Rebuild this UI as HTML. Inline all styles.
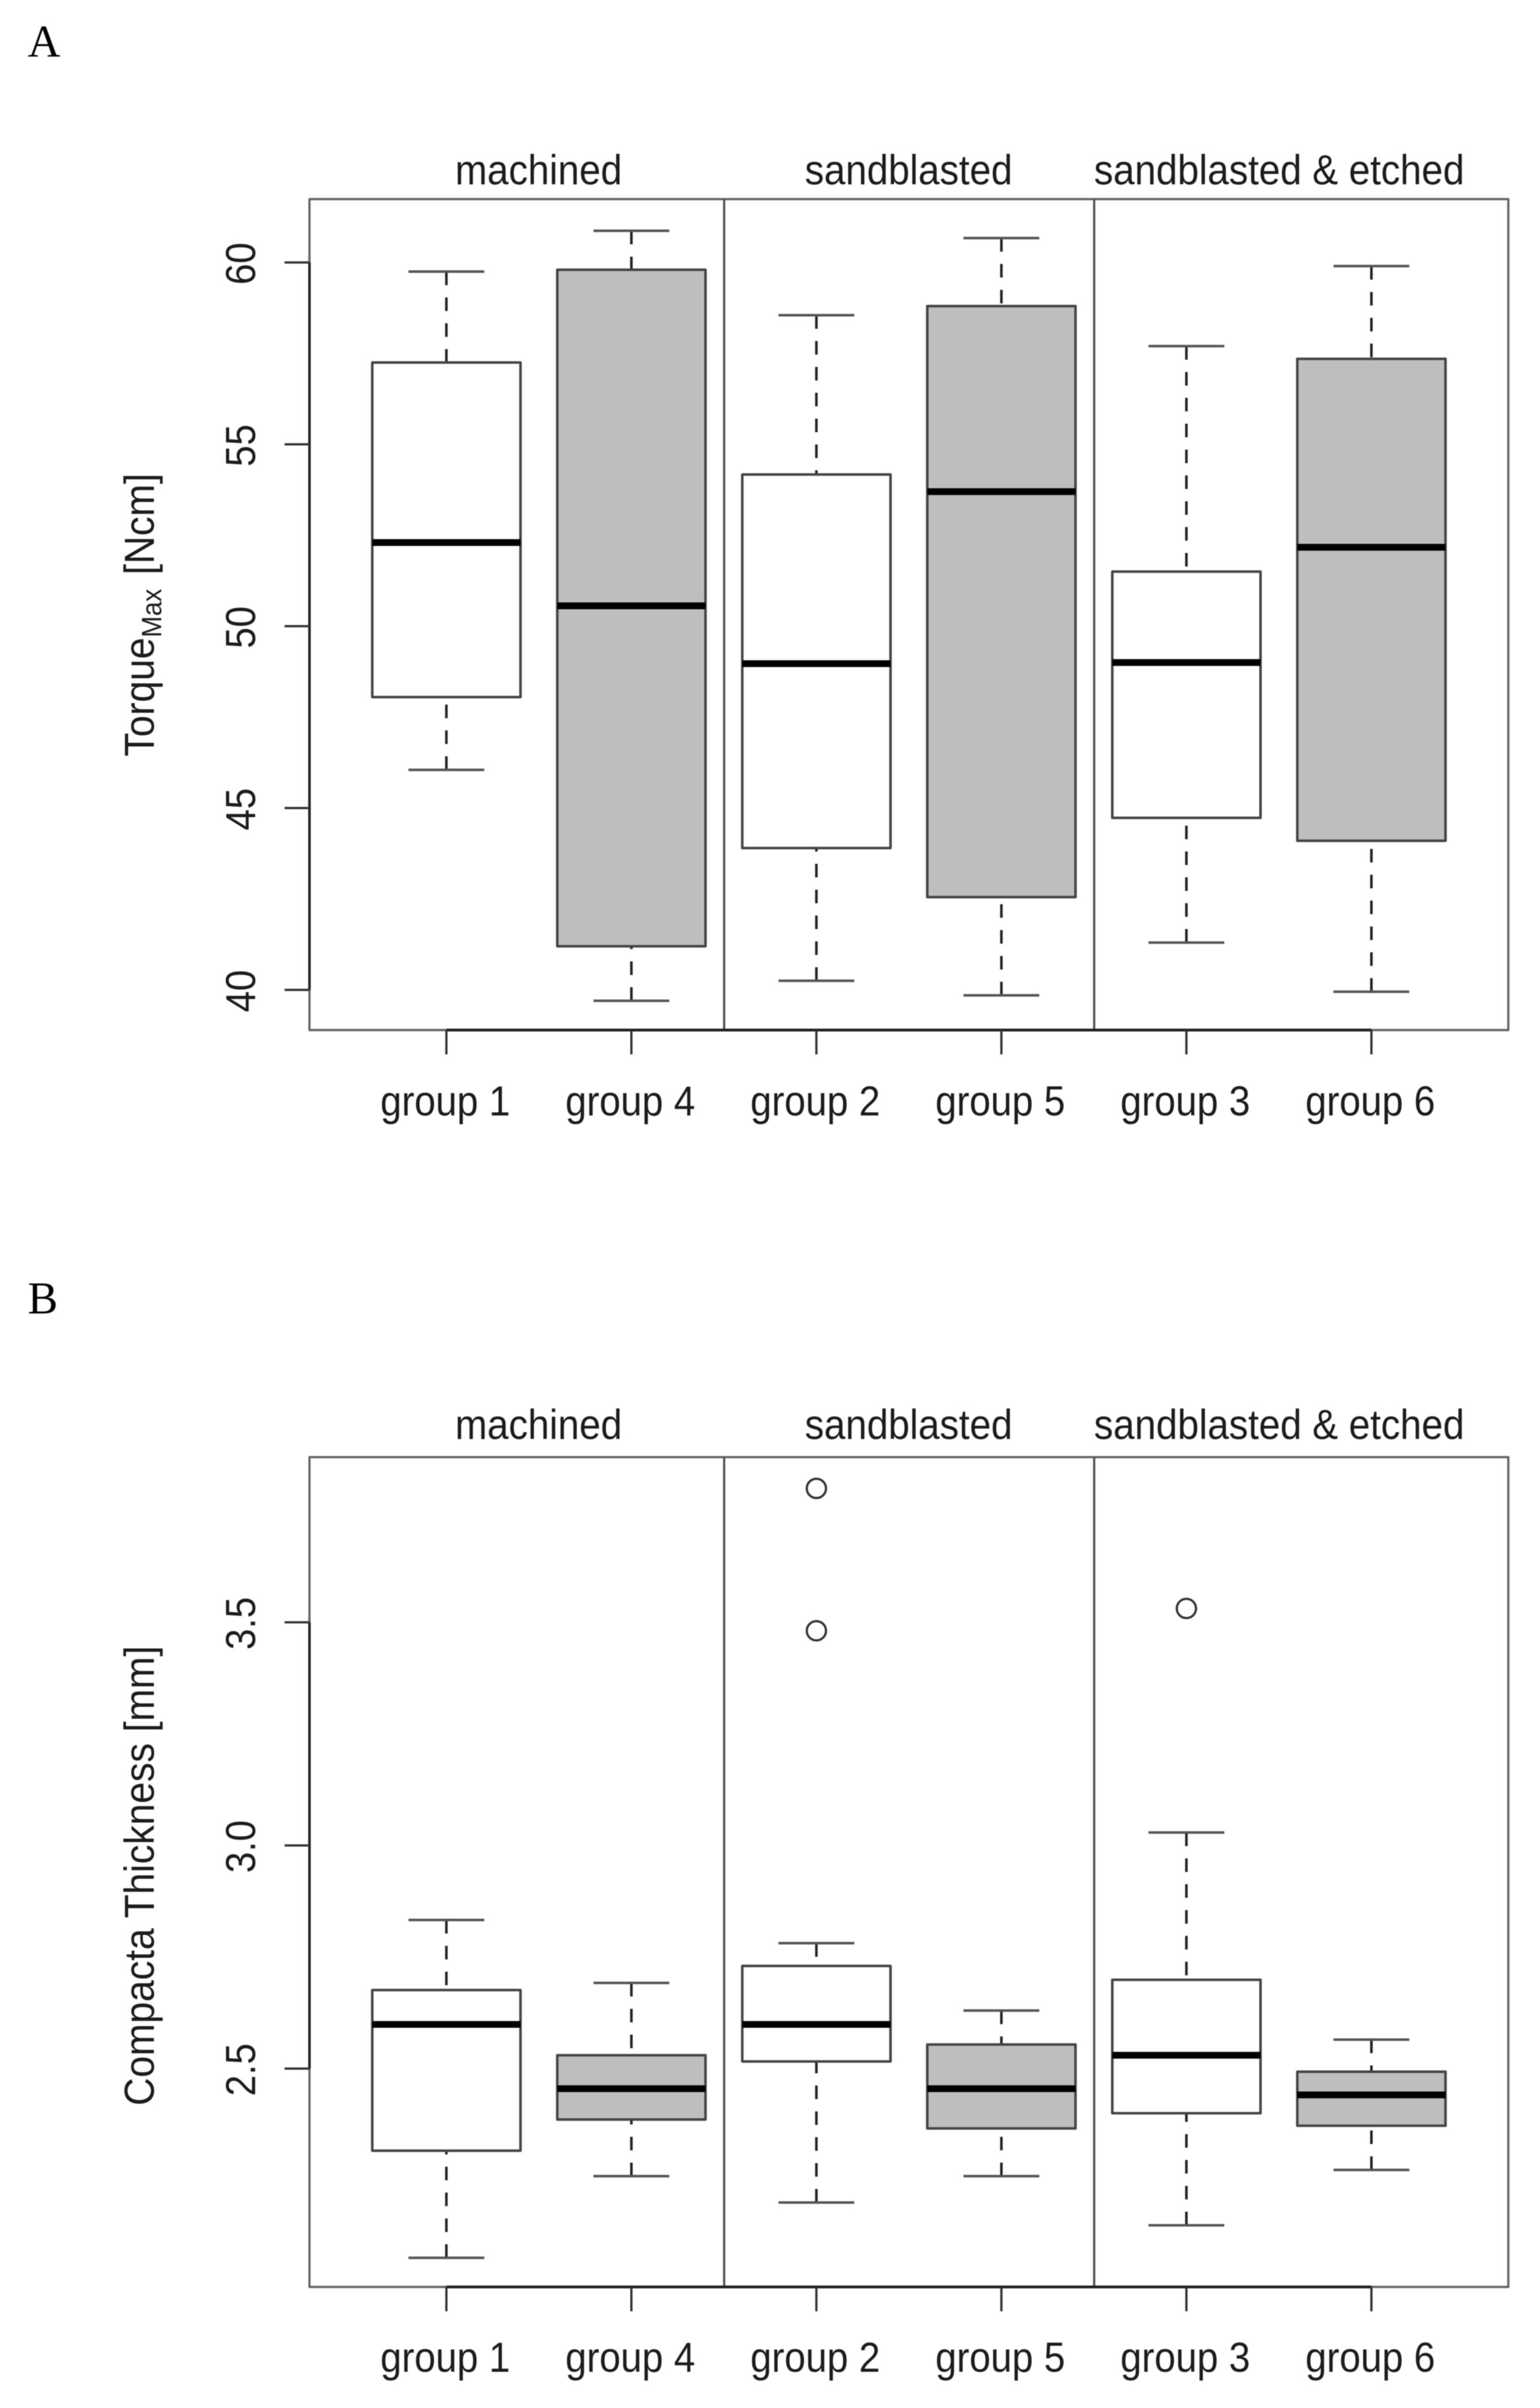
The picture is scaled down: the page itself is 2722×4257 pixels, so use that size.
<!DOCTYPE html>
<html lang="en">
<head>
<meta charset="utf-8">
<title>Torque and compacta thickness box plots</title>
<style>
html,body{margin:0;padding:0;background:#fff;width:2722px;height:4257px;overflow:hidden}
svg{display:block;filter:blur(0.7px)}
text{font-family:"Liberation Sans",sans-serif;fill:#1c1c1c}
.letter{font-family:"Liberation Serif",serif;font-size:80px;fill:#000}
.lab{font-size:74px}
</style>
</head>
<body>
<svg id="chart" xmlns="http://www.w3.org/2000/svg" width="2722" height="4257" viewBox="0 0 2722 4257">
  <rect width="2722" height="4257" fill="#fff"/>
  <text class="letter" x="49" y="100">A</text>
  <text class="letter" x="49" y="2322">B</text>

  <g id="panel-a">
    <text class="lab" text-anchor="middle" transform="translate(952 326) scale(.92 1)">machined</text>
    <text class="lab" text-anchor="middle" transform="translate(1606 326) scale(.92 1)">sandblasted</text>
    <text class="lab" text-anchor="middle" transform="translate(2261 326) scale(.92 1)">sandblasted &amp; etched</text>
    <text class="lab" text-anchor="middle" transform="translate(272 1087) rotate(-90) scale(.93 1)">Torque<tspan font-size="49" dy="13">Max</tspan><tspan dy="-13" dx="6"> [Ncm]</tspan></text>
  </g>

  <g id="panel-b">
    <text class="lab" text-anchor="middle" transform="translate(952 2544) scale(.92 1)">machined</text>
    <text class="lab" text-anchor="middle" transform="translate(1606 2544) scale(.92 1)">sandblasted</text>
    <text class="lab" text-anchor="middle" transform="translate(2261 2544) scale(.92 1)">sandblasted &amp; etched</text>
    <text class="lab" text-anchor="middle" transform="translate(272 3316) rotate(-90) scale(.93 1)">Compacta Thickness [mm]</text>
  </g>
</svg>

<script>
// Shared categories
const groups = ['group 1', 'group 4', 'group 2', 'group 5', 'group 3', 'group 6'];
const boxFills = ['#ffffff', '#bebebe', '#ffffff', '#bebebe', '#ffffff', '#bebebe'];

// Panel A: Torque Max [Ncm]
const torqueTicks = [40, 45, 50, 55, 60];
const torqueLow = [46.05, 39.7, 40.25, 39.85, 41.3, 39.95];
const torqueQ1 = [48.05, 41.2, 43.9, 42.55, 44.73, 44.1];
const torqueMedian = [52.3, 50.56, 48.97, 53.7, 49.0, 52.17];
const torqueQ3 = [57.25, 59.8, 54.17, 58.8, 51.5, 57.35];
const torqueHigh = [59.75, 60.87, 58.55, 60.67, 57.7, 59.9];
const torqueOutlierGroup = [];
const torqueOutlierValue = [];

// Panel B: Compacta Thickness [mm]
const thicknessTicks = ['2.5', '3.0', '3.5'];
const thicknessLow = [2.076, 2.259, 2.2, 2.259, 2.149, 2.273];
const thicknessQ1 = [2.316, 2.386, 2.516, 2.366, 2.4, 2.372];
const thicknessMedian = [2.599, 2.455, 2.599, 2.455, 2.53, 2.441];
const thicknessQ3 = [2.676, 2.53, 2.73, 2.554, 2.699, 2.493];
const thicknessHigh = [2.833, 2.692, 2.781, 2.63, 3.029, 2.565];
const thicknessOutlierGroup = [2, 2, 4];
const thicknessOutlierValue = [3.80, 3.481, 3.531];

const SVG_NS = 'http://www.w3.org/2000/svg';
const plotLeft = 547;
const plotRight = 2666;
const separators = [1280, 1934];
const firstCenter = 789;
const centerStep = 327;
const boxHalf = 131;
const capHalf = 67;
const tickLen = 43;

function xScale(i) {
  return firstCenter + i * centerStep;
}

function makeYScale(v0, y0, v1, y1) {
  return function (v) {
    return y0 + (v - v0) * (y1 - y0) / (v1 - v0);
  };
}

function shape(parent, tag, attrs) {
  const node = document.createElementNS(SVG_NS, tag);
  for (const key in attrs) {
    node.setAttribute(key, attrs[key]);
  }
  parent.appendChild(node);
  return node;
}

function segment(parent, x1, y1, x2, y2, color, width) {
  return shape(parent, 'line', { x1: x1, y1: y1, x2: x2, y2: y2, stroke: color, 'stroke-width': width });
}

function drawPanel(parent, prefix, top, bottom, yScale, ticks, low, q1, median, q3, high, outGroup, outValue, labelBaseline) {
  const frame = shape(parent, 'rect', { x: plotLeft, y: top, width: plotRight - plotLeft, height: bottom - top, fill: 'none', stroke: '#666', 'stroke-width': 4, 'stroke-linejoin': 'round' });
  
  

  separators.forEach(function (sx, s) {
    const sep = segment(parent, sx, top, sx, bottom, '#555', 4);
    
    
  });

  const tickValues = ticks.map(Number);
  const yAxis = segment(parent, plotLeft, yScale(Math.min.apply(null, tickValues)), plotLeft, yScale(Math.max.apply(null, tickValues)), '#222', 4.5);
  
  

  ticks.forEach(function (t) {
    const ty = yScale(Number(t));
    const tick = segment(parent, plotLeft - 44, ty, plotLeft, ty, '#333', 4);
    
    
    const label = shape(parent, 'text', { 'class': 'lab', 'text-anchor': 'middle', transform: 'translate(451 ' + (ty + 2) + ') rotate(-90) scale(.91 1)' });
    label.textContent = t;
    
    
  });

  const xAxis = segment(parent, xScale(0), bottom, xScale(groups.length - 1), bottom, '#222', 5);
  
  

  groups.forEach(function (name, i) {
    const cx = xScale(i);
    const slug = prefix + '-' + name.replace(' ', '-');

    const tick = segment(parent, cx, bottom, cx, bottom + tickLen, '#333', 4);
    
    

    const label = shape(parent, 'text', { 'class': 'lab', 'text-anchor': 'middle', transform: 'translate(' + (cx - 2) + ' ' + labelBaseline + ') scale(.915 1)' });
    label.textContent = name;
    
    

    const upper = shape(parent, 'line', { x1: cx, y1: yScale(high[i]), x2: cx, y2: yScale(q3[i]), stroke: '#222', 'stroke-width': 4.5, 'stroke-dasharray': '24 21.7' });
    
    

    const lower = shape(parent, 'line', { x1: cx, y1: yScale(low[i]), x2: cx, y2: yScale(q1[i]), stroke: '#222', 'stroke-width': 4.5, 'stroke-dasharray': '24 21.7' });
    
    

    const capHigh = segment(parent, cx - capHalf, yScale(high[i]), cx + capHalf, yScale(high[i]), '#555', 4.5);
    
    

    const capLow = segment(parent, cx - capHalf, yScale(low[i]), cx + capHalf, yScale(low[i]), '#555', 4.5);
    
    

    const box = shape(parent, 'rect', { x: cx - boxHalf, y: yScale(q3[i]), width: boxHalf * 2, height: yScale(q1[i]) - yScale(q3[i]), fill: boxFills[i], stroke: '#444', 'stroke-width': 4.5, 'stroke-linejoin': 'round' });
    
    

    const med = segment(parent, cx - boxHalf, yScale(median[i]), cx + boxHalf, yScale(median[i]), '#000', 12);
    
    
  });

  outGroup.forEach(function (g, k) {
    const dot = shape(parent, 'circle', { cx: xScale(g), cy: yScale(outValue[k]), r: 17, fill: 'none', stroke: '#333', 'stroke-width': 4 });
    
    
  });
}

drawPanel(document.getElementById('panel-a'), 'torque', 352, 1821,
  makeYScale(40, 1750, 60, 464), torqueTicks.map(String),
  torqueLow, torqueQ1, torqueMedian, torqueQ3, torqueHigh,
  torqueOutlierGroup, torqueOutlierValue, 1972);

drawPanel(document.getElementById('panel-b'), 'thickness', 2576, 4043,
  makeYScale(2.5, 3657, 3.5, 2868), thicknessTicks,
  thicknessLow, thicknessQ1, thicknessMedian, thicknessQ3, thicknessHigh,
  thicknessOutlierGroup, thicknessOutlierValue, 4193);
</script>
</body>
</html>
